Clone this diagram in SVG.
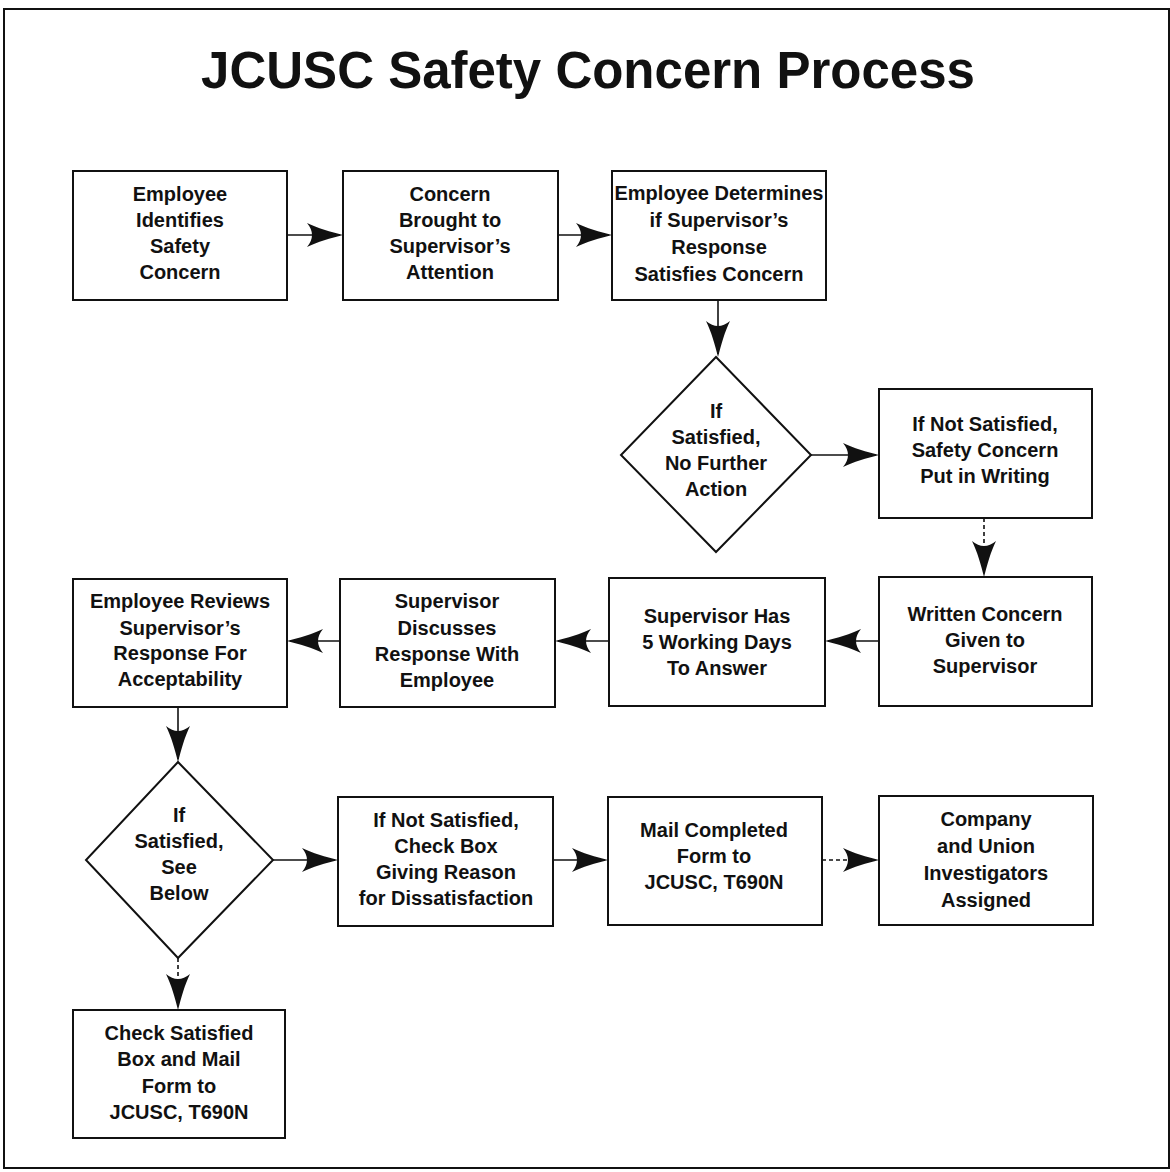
<svg xmlns="http://www.w3.org/2000/svg" width="1170" height="1172" viewBox="0 0 1170 1172">
<defs>
<style>
.box{fill:#fff;stroke:#111;stroke-width:2}
.t{font-family:"Liberation Sans",Arial,sans-serif;font-weight:bold;font-size:20px;fill:#111;text-anchor:middle}
.title{font-family:"Liberation Sans",Arial,sans-serif;font-weight:bold;font-size:51px;fill:#111;text-anchor:middle}
.c{fill:none;stroke:#111;stroke-width:1.6}
.d{stroke-dasharray:4 3}
.ah{fill:#111}
</style>
<path id="ar" class="ah" d="M0,0 C-12,-3 -26,-7 -36,-12 Q-26,0 -36,12 C-26,7 -12,3 0,0 Z"/>
</defs>
<rect width="1170" height="1172" fill="#fff"/>
<rect x="4" y="9" width="1165" height="1159" fill="none" stroke="#111" stroke-width="2"/>
<text class="title" x="588" y="88">JCUSC Safety Concern Process</text>

<g id="connectors">
<line class="c" x1="287" y1="235" x2="340" y2="235"/><use href="#ar" transform="translate(343,235)"/>
<line class="c" x1="558" y1="235" x2="609" y2="235"/><use href="#ar" transform="translate(612,235)"/>
<line class="c" x1="718" y1="300" x2="718" y2="354"/><use href="#ar" transform="translate(718,357) rotate(90)"/>
<line class="c" x1="811" y1="455" x2="876" y2="455"/><use href="#ar" transform="translate(879,455)"/>
<line class="c d" x1="984" y1="518" x2="984" y2="574"/><use href="#ar" transform="translate(984,577) rotate(90)"/>
<line class="c" x1="879" y1="641" x2="828" y2="641"/><use href="#ar" transform="translate(825,641) rotate(180)"/>
<line class="c" x1="609" y1="641" x2="558" y2="641"/><use href="#ar" transform="translate(555,641) rotate(180)"/>
<line class="c" x1="340" y1="641" x2="290" y2="641"/><use href="#ar" transform="translate(287,641) rotate(180)"/>
<line class="c" x1="178" y1="707" x2="178" y2="759"/><use href="#ar" transform="translate(178,762) rotate(90)"/>
<line class="c" x1="273" y1="860" x2="335" y2="860"/><use href="#ar" transform="translate(338,860)"/>
<line class="c" x1="553" y1="860" x2="605" y2="860"/><use href="#ar" transform="translate(608,860)"/>
<line class="c d" x1="822" y1="860" x2="876" y2="860"/><use href="#ar" transform="translate(879,860)"/>
<line class="c d" x1="178" y1="958" x2="178" y2="1007"/><use href="#ar" transform="translate(178,1010) rotate(90)"/>
</g>

<g id="n1"><rect class="box" x="73" y="171" width="214" height="129"/>
<text class="t" x="180" y="201">Employee</text><text class="t" x="180" y="227">Identifies</text><text class="t" x="180" y="253">Safety</text><text class="t" x="180" y="279">Concern</text></g>

<g id="n2"><rect class="box" x="343" y="171" width="215" height="129"/>
<text class="t" x="450" y="201">Concern</text><text class="t" x="450" y="227">Brought to</text><text class="t" x="450" y="253">Supervisor’s</text><text class="t" x="450" y="279">Attention</text></g>

<g id="n3"><rect class="box" x="612" y="171" width="214" height="129"/>
<text class="t" x="719" y="200">Employee Determines</text><text class="t" x="719" y="227">if Supervisor’s</text><text class="t" x="719" y="254">Response</text><text class="t" x="719" y="281">Satisfies Concern</text></g>

<g id="n4"><polygon class="box" points="716,357 811,455 716,552 621,455"/>
<text class="t" x="716" y="418">If</text><text class="t" x="716" y="444">Satisfied,</text><text class="t" x="716" y="470">No Further</text><text class="t" x="716" y="496">Action</text></g>

<g id="n5"><rect class="box" x="879" y="389" width="213" height="129"/>
<text class="t" x="985" y="431">If Not Satisfied,</text><text class="t" x="985" y="457">Safety Concern</text><text class="t" x="985" y="483">Put in Writing</text></g>

<g id="n6"><rect class="box" x="879" y="577" width="213" height="129"/>
<text class="t" x="985" y="621">Written Concern</text><text class="t" x="985" y="647">Given to</text><text class="t" x="985" y="673">Supervisor</text></g>

<g id="n7"><rect class="box" x="609" y="578" width="216" height="128"/>
<text class="t" x="717" y="623">Supervisor Has</text><text class="t" x="717" y="649">5 Working Days</text><text class="t" x="717" y="675">To Answer</text></g>

<g id="n8"><rect class="box" x="340" y="579" width="215" height="128"/>
<text class="t" x="447" y="608">Supervisor</text><text class="t" x="447" y="635">Discusses</text><text class="t" x="447" y="661">Response With</text><text class="t" x="447" y="687">Employee</text></g>

<g id="n9"><rect class="box" x="73" y="579" width="214" height="128"/>
<text class="t" x="180" y="608">Employee Reviews</text><text class="t" x="180" y="635">Supervisor’s</text><text class="t" x="180" y="660">Response For</text><text class="t" x="180" y="686">Acceptability</text></g>

<g id="n10"><polygon class="box" points="178,762 273,860 178,958 86,860"/>
<text class="t" x="179" y="822">If</text><text class="t" x="179" y="848">Satisfied,</text><text class="t" x="179" y="874">See</text><text class="t" x="179" y="900">Below</text></g>

<g id="n11"><rect class="box" x="338" y="797" width="215" height="129"/>
<text class="t" x="446" y="827">If Not Satisfied,</text><text class="t" x="446" y="853">Check Box</text><text class="t" x="446" y="879">Giving Reason</text><text class="t" x="446" y="905">for Dissatisfaction</text></g>

<g id="n12"><rect class="box" x="608" y="797" width="214" height="128"/>
<text class="t" x="714" y="837">Mail Completed</text><text class="t" x="714" y="863">Form to</text><text class="t" x="714" y="889">JCUSC, T690N</text></g>

<g id="n13"><rect class="box" x="879" y="796" width="214" height="129"/>
<text class="t" x="986" y="826">Company</text><text class="t" x="986" y="853">and Union</text><text class="t" x="986" y="880">Investigators</text><text class="t" x="986" y="907">Assigned</text></g>

<g id="n14"><rect class="box" x="73" y="1010" width="212" height="128"/>
<text class="t" x="179" y="1040">Check Satisfied</text><text class="t" x="179" y="1066">Box and Mail</text><text class="t" x="179" y="1093">Form to</text><text class="t" x="179" y="1119">JCUSC, T690N</text></g>
</svg>
